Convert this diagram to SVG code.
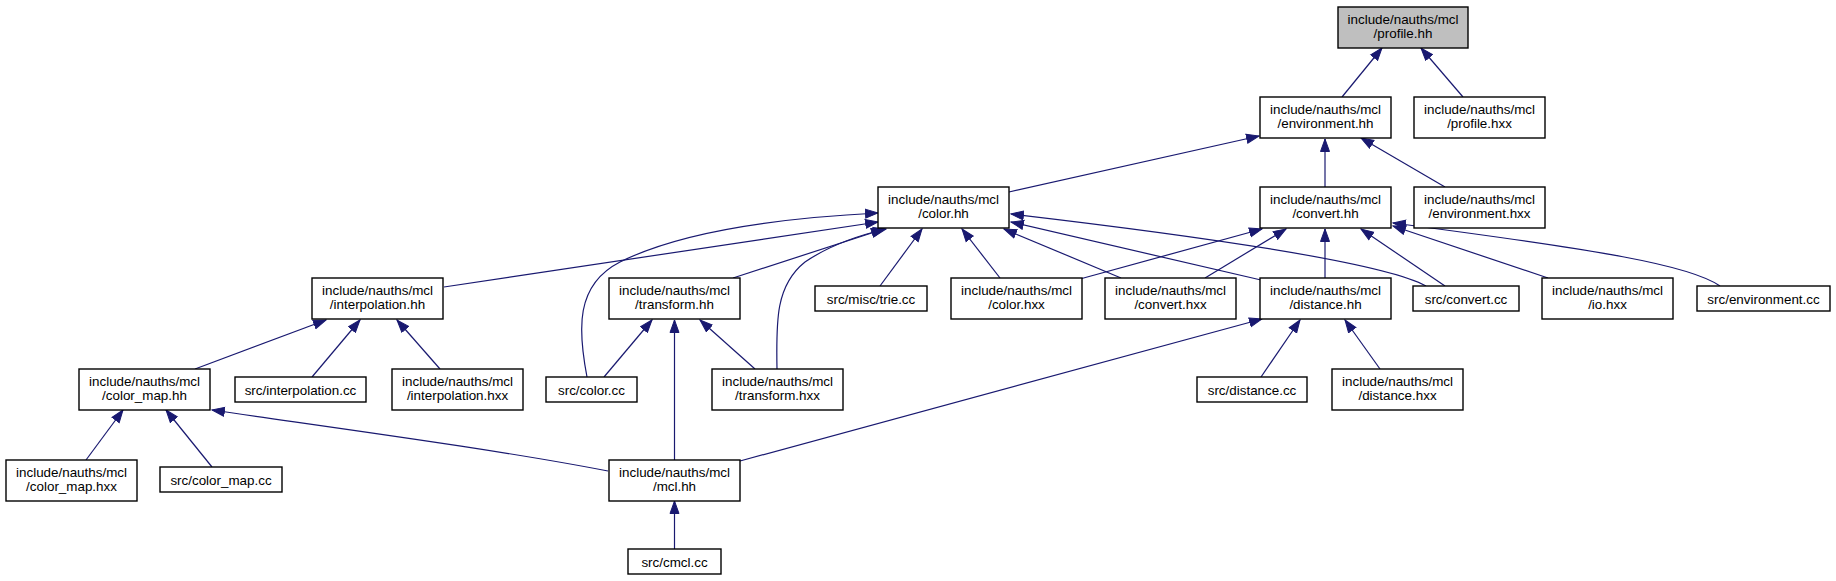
<svg xmlns="http://www.w3.org/2000/svg" width="1836" height="581" viewBox="0 0 1836 581">
<defs>
<style>
.n rect{fill:#fff;stroke:#000;stroke-width:1.4}
.n.root rect{fill:#bfbfbf}
.n text{font-family:"Liberation Sans",Arial,sans-serif;font-size:13.4px;fill:#000;text-anchor:middle}
.e path{fill:none;stroke:#191970;stroke-width:1.2;marker-end:url(#ah)}
</style>
<marker id="ah" markerUnits="userSpaceOnUse" markerWidth="14" markerHeight="12" refX="13" refY="5" orient="auto" viewBox="0 0 14 10">
<path d="M0.5,0.5 L13,5 L0.5,9.5 z" fill="#191970" stroke="#191970" stroke-width="1"/>
</marker>
</defs>
<rect width="1836" height="581" fill="#fff"/>
<g id="edges" class="e">
<path d="M1342,97 L1382,48"/>
<path d="M1463,97 L1421,48"/>
<path d="M1009,192 L1259,136"/>
<path d="M1325,187 L1325,139"/>
<path d="M1445,187 L1361,138"/>
<path d="M444,287 L878,222"/>
<path d="M733,278 L884,229"/>
<path d="M880,286 L922,229"/>
<path d="M1000,278 L962,229"/>
<path d="M1121,278 L1004,229"/>
<path d="M1261,280 L1011,222"/>
<path d="M1426,286 C1390,266 1250,242 1011,214"/>
<path d="M587,377 C578,330 575,285 620,262 C680,232 780,218 878,213"/>
<path d="M777,369 C776,320 776,285 805,262 C830,245 860,235 886,229"/>
<path d="M1080,279 L1262,229"/>
<path d="M1205,278 L1286,229"/>
<path d="M1325,278 L1325,229"/>
<path d="M1445,286 L1361,229"/>
<path d="M1548,278 L1393,226"/>
<path d="M1720,286 C1690,265 1600,250 1393,223"/>
<path d="M195,369 L326,320"/>
<path d="M312,377 L360,320"/>
<path d="M440,369 L397,320"/>
<path d="M604,377 L652,320"/>
<path d="M674.5,460 L674.5,320"/>
<path d="M755,369 L700,320"/>
<path d="M1261,377 L1300,320"/>
<path d="M1380,369 L1345,320"/>
<path d="M740,461 L1262,319"/>
<path d="M86,460 L123,410"/>
<path d="M212,467 L166,410"/>
<path d="M608,471 C500,450 350,430 212,410"/>
<path d="M674.5,549 L674.5,501"/>
</g>
<g id="n_profile_hh" class="n root"><rect x="1338" y="7" width="130" height="41"/><text x="1403" y="24">include/nauths/mcl</text><text x="1403" y="38">/profile.hh</text></g>
<g id="n_environment_hh" class="n"><rect x="1260" y="97" width="131" height="41"/><text x="1325.5" y="114">include/nauths/mcl</text><text x="1325.5" y="128">/environment.hh</text></g>
<g id="n_profile_hxx" class="n"><rect x="1414" y="97" width="131" height="41"/><text x="1479.5" y="114">include/nauths/mcl</text><text x="1479.5" y="128">/profile.hxx</text></g>
<g id="n_color_hh" class="n"><rect x="878" y="187" width="131" height="41"/><text x="943.5" y="204">include/nauths/mcl</text><text x="943.5" y="218">/color.hh</text></g>
<g id="n_convert_hh" class="n"><rect x="1260" y="187" width="131" height="41"/><text x="1325.5" y="204">include/nauths/mcl</text><text x="1325.5" y="218">/convert.hh</text></g>
<g id="n_environment_hxx" class="n"><rect x="1414" y="187" width="131" height="41"/><text x="1479.5" y="204">include/nauths/mcl</text><text x="1479.5" y="218">/environment.hxx</text></g>
<g id="n_interpolation_hh" class="n"><rect x="312" y="278" width="131" height="41"/><text x="377.5" y="295">include/nauths/mcl</text><text x="377.5" y="309">/interpolation.hh</text></g>
<g id="n_transform_hh" class="n"><rect x="609" y="278" width="131" height="41"/><text x="674.5" y="295">include/nauths/mcl</text><text x="674.5" y="309">/transform.hh</text></g>
<g id="n_trie_cc" class="n"><rect x="815" y="286" width="112" height="25"/><text x="871" y="303.5">src/misc/trie.cc</text></g>
<g id="n_color_hxx" class="n"><rect x="951" y="278" width="131" height="41"/><text x="1016.5" y="295">include/nauths/mcl</text><text x="1016.5" y="309">/color.hxx</text></g>
<g id="n_convert_hxx" class="n"><rect x="1105" y="278" width="131" height="41"/><text x="1170.5" y="295">include/nauths/mcl</text><text x="1170.5" y="309">/convert.hxx</text></g>
<g id="n_distance_hh" class="n"><rect x="1260" y="278" width="131" height="41"/><text x="1325.5" y="295">include/nauths/mcl</text><text x="1325.5" y="309">/distance.hh</text></g>
<g id="n_convert_cc" class="n"><rect x="1413" y="286" width="106" height="25"/><text x="1466" y="303.5">src/convert.cc</text></g>
<g id="n_io_hxx" class="n"><rect x="1542" y="278" width="131" height="41"/><text x="1607.5" y="295">include/nauths/mcl</text><text x="1607.5" y="309">/io.hxx</text></g>
<g id="n_environment_cc" class="n"><rect x="1697" y="286" width="133" height="25"/><text x="1763.5" y="303.5">src/environment.cc</text></g>
<g id="n_color_map_hh" class="n"><rect x="79" y="369" width="131" height="41"/><text x="144.5" y="386">include/nauths/mcl</text><text x="144.5" y="400">/color_map.hh</text></g>
<g id="n_interpolation_cc" class="n"><rect x="235" y="377" width="131" height="25"/><text x="300.5" y="394.5">src/interpolation.cc</text></g>
<g id="n_interpolation_hxx" class="n"><rect x="392" y="369" width="131" height="41"/><text x="457.5" y="386">include/nauths/mcl</text><text x="457.5" y="400">/interpolation.hxx</text></g>
<g id="n_color_cc" class="n"><rect x="546" y="377" width="91" height="25"/><text x="591.5" y="394.5">src/color.cc</text></g>
<g id="n_transform_hxx" class="n"><rect x="712" y="369" width="131" height="41"/><text x="777.5" y="386">include/nauths/mcl</text><text x="777.5" y="400">/transform.hxx</text></g>
<g id="n_distance_cc" class="n"><rect x="1197" y="377" width="110" height="25"/><text x="1252" y="394.5">src/distance.cc</text></g>
<g id="n_distance_hxx" class="n"><rect x="1332" y="369" width="131" height="41"/><text x="1397.5" y="386">include/nauths/mcl</text><text x="1397.5" y="400">/distance.hxx</text></g>
<g id="n_color_map_hxx" class="n"><rect x="6" y="460" width="131" height="41"/><text x="71.5" y="477">include/nauths/mcl</text><text x="71.5" y="491">/color_map.hxx</text></g>
<g id="n_color_map_cc" class="n"><rect x="160" y="467" width="122" height="25"/><text x="221" y="484.5">src/color_map.cc</text></g>
<g id="n_mcl_hh" class="n"><rect x="609" y="460" width="131" height="41"/><text x="674.5" y="477">include/nauths/mcl</text><text x="674.5" y="491">/mcl.hh</text></g>
<g id="n_cmcl_cc" class="n"><rect x="628" y="549" width="93" height="25"/><text x="674.5" y="566.5">src/cmcl.cc</text></g>
</svg>
